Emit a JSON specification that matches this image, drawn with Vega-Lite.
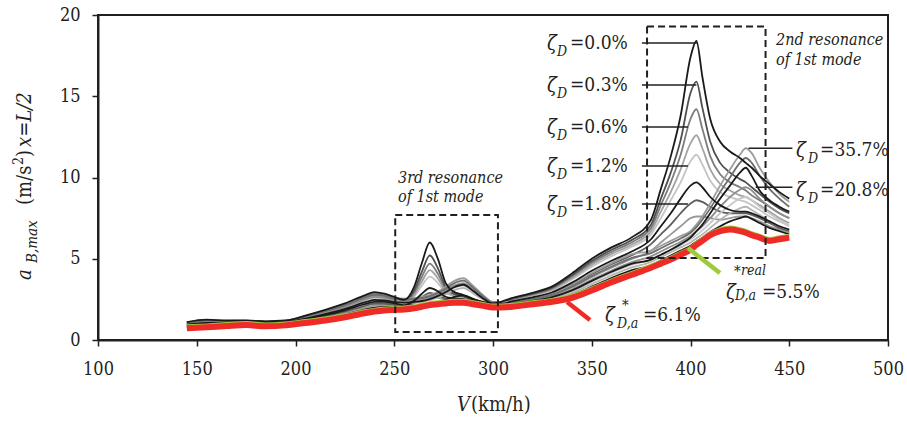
{
"$schema":"https://vega.github.io/schema/vega-lite/v6.json",
"width":790,"height":325,
"autosize":{"type":"none"},
"padding":{"left":98,"top":15,"right":19,"bottom":84},
"background":"white",
"config":{
 "font":"DejaVu Serif Condensed, DejaVu Serif",
 "view":{"stroke":"#231f20","strokeWidth":2},
 "axis":{"grid":false,"domainColor":"#231f20","domainWidth":2,"tickColor":"#231f20","tickWidth":1.5,"tickSize":6,"labelFont":"DejaVu Serif Condensed, DejaVu Serif","labelFontSize":18,"labelColor":"#231f20","labelFlush":false,"labelOverlap":false},
 "axisX":{"tickCount":8,"labelPadding":14},
 "axisY":{"tickCount":4,"labelPadding":12}
},
"datasets":{
 "curves":[
  {"v":145,"L0":1.1,"L1":1.07,"L2":1.04,"L3":1.02,"L4":0.99,"L5":0.91,"L6":0.87,"L7":0.83,"H0":0.8,"H1":0.93,"H2":0.97,"H3":1.0,"H4":0.95,"H5":1.05,"H6":1.08,"R":0.72,"G":0.87},
  {"v":155,"L0":1.25,"L1":1.21,"L2":1.18,"L3":1.15,"L4":1.11,"L5":1.02,"L6":0.97,"L7":0.92,"H0":0.87,"H1":1.04,"H2":1.09,"H3":1.13,"H4":1.06,"H5":1.19,"H6":1.23,"R":0.78,"G":0.93},
  {"v":165,"L0":1.2,"L1":1.17,"L2":1.15,"L3":1.13,"L4":1.1,"L5":1.03,"L6":1.0,"L7":0.96,"H0":0.93,"H1":1.05,"H2":1.08,"H3":1.12,"H4":1.06,"H5":1.16,"H6":1.18,"R":0.86,"G":1.01},
  {"v":175,"L0":1.2,"L1":1.18,"L2":1.16,"L3":1.14,"L4":1.12,"L5":1.06,"L6":1.03,"L7":1.0,"H0":0.98,"H1":1.07,"H2":1.1,"H3":1.13,"H4":1.09,"H5":1.17,"H6":1.19,"R":0.92,"G":1.07},
  {"v":185,"L0":1.15,"L1":1.13,"L2":1.1,"L3":1.08,"L4":1.06,"L5":1.0,"L6":0.96,"L7":0.93,"H0":0.9,"H1":1.01,"H2":1.04,"H3":1.07,"H4":1.03,"H5":1.11,"H6":1.13,"R":0.84,"G":0.99},
  {"v":195,"L0":1.2,"L1":1.18,"L2":1.16,"L3":1.13,"L4":1.11,"L5":1.05,"L6":1.02,"L7":0.99,"H0":0.96,"H1":1.07,"H2":1.1,"H3":1.13,"H4":1.08,"H5":1.16,"H6":1.19,"R":0.9,"G":1.05},
  {"v":205,"L0":1.5,"L1":1.46,"L2":1.43,"L3":1.4,"L4":1.37,"L5":1.28,"L6":1.23,"L7":1.19,"H0":1.14,"H1":1.3,"H2":1.34,"H3":1.39,"H4":1.32,"H5":1.45,"H6":1.48,"R":1.05,"G":1.2},
  {"v":215,"L0":1.85,"L1":1.8,"L2":1.75,"L3":1.71,"L4":1.66,"L5":1.53,"L6":1.46,"L7":1.4,"H0":1.33,"H1":1.56,"H2":1.62,"H3":1.69,"H4":1.59,"H5":1.77,"H6":1.82,"R":1.2,"G":1.35},
  {"v":225,"L0":2.25,"L1":2.18,"L2":2.12,"L3":2.06,"L4":2.0,"L5":1.83,"L6":1.74,"L7":1.66,"H0":1.57,"H1":1.87,"H2":1.95,"H3":2.04,"H4":1.91,"H5":2.15,"H6":2.21,"R":1.4,"G":1.55},
  {"v":235,"L0":2.75,"L1":2.66,"L2":2.59,"L3":2.51,"L4":2.42,"L5":2.2,"L6":2.09,"L7":1.98,"H0":1.87,"H1":2.26,"H2":2.37,"H3":2.48,"H4":2.31,"H5":2.62,"H6":2.7,"R":1.65,"G":1.8},
  {"v":240,"L0":2.95,"L1":2.85,"L2":2.77,"L3":2.69,"L4":2.59,"L5":2.35,"L6":2.23,"L7":2.11,"H0":1.99,"H1":2.41,"H2":2.53,"H3":2.65,"H4":2.47,"H5":2.81,"H6":2.89,"R":1.75,"G":1.9},
  {"v":245,"L0":2.85,"L1":2.77,"L2":2.7,"L3":2.62,"L4":2.54,"L5":2.34,"L6":2.23,"L7":2.13,"H0":2.03,"H1":2.39,"H2":2.49,"H3":2.59,"H4":2.44,"H5":2.73,"H6":2.8,"R":1.82,"G":1.97},
  {"v":250,"L0":2.65,"L1":2.59,"L2":2.53,"L3":2.47,"L4":2.41,"L5":2.25,"L6":2.17,"L7":2.09,"H0":2.01,"H1":2.29,"H2":2.37,"H3":2.45,"H4":2.33,"H5":2.55,"H6":2.61,"R":1.85,"G":2.0},
  {"v":255,"L0":2.47,"L1":2.39,"L2":2.36,"L3":2.29,"L4":2.27,"L5":2.14,"L6":2.08,"L7":2.07,"H0":2.0,"H1":2.27,"H2":2.35,"H3":2.42,"H4":2.3,"H5":2.5,"H6":2.55,"R":1.88,"G":2.03},
  {"v":260,"L0":3.26,"L1":3.03,"L2":2.9,"L3":2.76,"L4":2.66,"L5":2.41,"L6":2.3,"L7":2.24,"H0":2.05,"H1":2.3,"H2":2.39,"H3":2.45,"H4":2.34,"H5":2.53,"H6":2.58,"R":1.95,"G":2.1},
  {"v":264,"L0":4.74,"L1":4.21,"L2":3.88,"L3":3.6,"L4":3.34,"L5":2.85,"L6":2.64,"L7":2.48,"H0":2.12,"H1":2.35,"H2":2.44,"H3":2.51,"H4":2.4,"H5":2.59,"H6":2.65,"R":2.05,"G":2.2},
  {"v":268,"L0":6.0,"L1":5.2,"L2":4.7,"L3":4.3,"L4":3.9,"L5":3.2,"L6":2.9,"L7":2.65,"H0":2.2,"H1":2.45,"H2":2.53,"H3":2.62,"H4":2.51,"H5":2.7,"H6":2.76,"R":2.15,"G":2.3},
  {"v":272,"L0":5.02,"L1":4.44,"L2":4.09,"L3":3.8,"L4":3.52,"L5":3.0,"L6":2.77,"L7":2.6,"H0":2.32,"H1":2.6,"H2":2.7,"H3":2.79,"H4":2.7,"H5":2.89,"H6":2.97,"R":2.2,"G":2.35},
  {"v":276,"L0":3.51,"L1":3.28,"L2":3.15,"L3":3.01,"L4":2.91,"L5":2.66,"L6":2.55,"L7":2.49,"H0":2.47,"H1":2.81,"H2":2.93,"H3":3.05,"H4":2.94,"H5":3.16,"H6":3.27,"R":2.25,"G":2.4},
  {"v":280,"L0":2.98,"L1":2.87,"L2":2.83,"L3":2.75,"L4":2.72,"L5":2.57,"L6":2.5,"L7":2.48,"H0":2.64,"H1":3.05,"H2":3.2,"H3":3.34,"H4":3.23,"H5":3.47,"H6":3.61,"R":2.3,"G":2.45},
  {"v":285,"L0":2.77,"L1":2.7,"L2":2.69,"L3":2.64,"L4":2.63,"L5":2.52,"L6":2.46,"L7":2.46,"H0":2.75,"H1":3.2,"H2":3.35,"H3":3.5,"H4":3.4,"H5":3.65,"H6":3.8,"R":2.3,"G":2.45},
  {"v":290,"L0":2.5,"L1":2.45,"L2":2.45,"L3":2.4,"L4":2.4,"L5":2.3,"L6":2.25,"L7":2.25,"H0":2.54,"H1":2.87,"H2":2.99,"H3":3.09,"H4":3.01,"H5":3.21,"H6":3.32,"R":2.2,"G":2.35},
  {"v":295,"L0":2.35,"L1":2.3,"L2":2.3,"L3":2.25,"L4":2.25,"L5":2.15,"L6":2.1,"L7":2.1,"H0":2.29,"H1":2.48,"H2":2.55,"H3":2.62,"H4":2.56,"H5":2.69,"H6":2.76,"R":2.1,"G":2.25},
  {"v":300,"L0":2.25,"L1":2.2,"L2":2.2,"L3":2.15,"L4":2.15,"L5":2.05,"L6":2.0,"L7":2.0,"H0":2.12,"H1":2.2,"H2":2.24,"H3":2.28,"H4":2.22,"H5":2.32,"H6":2.35,"R":2.0,"G":2.15},
  {"v":310,"L0":2.6,"L1":2.56,"L2":2.53,"L3":2.5,"L4":2.46,"L5":2.39,"L6":2.34,"L7":2.28,"H0":2.12,"H1":2.16,"H2":2.2,"H3":2.24,"H4":2.22,"H5":2.3,"H6":2.35,"R":2.05,"G":2.2},
  {"v":320,"L0":2.9,"L1":2.85,"L2":2.81,"L3":2.77,"L4":2.73,"L5":2.63,"L6":2.56,"L7":2.49,"H0":2.28,"H1":2.34,"H2":2.39,"H3":2.44,"H4":2.41,"H5":2.52,"H6":2.59,"R":2.2,"G":2.35},
  {"v":330,"L0":3.3,"L1":3.23,"L2":3.18,"L3":3.12,"L4":3.06,"L5":2.94,"L6":2.84,"L7":2.75,"H0":2.46,"H1":2.54,"H2":2.61,"H3":2.67,"H4":2.64,"H5":2.78,"H6":2.87,"R":2.35,"G":2.5},
  {"v":340,"L0":4.1,"L1":4.0,"L2":3.91,"L3":3.82,"L4":3.73,"L5":3.53,"L6":3.38,"L7":3.23,"H0":2.78,"H1":2.9,"H2":3.01,"H3":3.11,"H4":3.05,"H5":3.28,"H6":3.43,"R":2.6,"G":2.75},
  {"v":350,"L0":5.0,"L1":4.86,"L2":4.75,"L3":4.63,"L4":4.51,"L5":4.26,"L6":4.06,"L7":3.87,"H0":3.28,"H1":3.44,"H2":3.58,"H3":3.71,"H4":3.64,"H5":3.93,"H6":4.12,"R":3.05,"G":3.2},
  {"v":360,"L0":5.7,"L1":5.55,"L2":5.42,"L3":5.29,"L4":5.16,"L5":4.88,"L6":4.67,"L7":4.45,"H0":3.81,"H1":3.98,"H2":4.13,"H3":4.28,"H4":4.2,"H5":4.52,"H6":4.73,"R":3.55,"G":3.7},
  {"v":370,"L0":6.3,"L1":6.14,"L2":6.0,"L3":5.86,"L4":5.73,"L5":5.43,"L6":5.2,"L7":4.97,"H0":4.28,"H1":4.46,"H2":4.62,"H3":4.78,"H4":4.69,"H5":5.04,"H6":5.27,"R":4.0,"G":4.15},
  {"v":380,"L0":7.4,"L1":7.1,"L2":6.9,"L3":6.7,"L4":6.5,"L5":6.2,"L6":5.9,"L7":5.5,"H0":4.6,"H1":4.8,"H2":4.95,"H3":5.15,"H4":4.95,"H5":5.35,"H6":5.5,"R":4.45,"G":4.6},
  {"v":385,"L0":9.3,"L1":8.7,"L2":8.3,"L3":7.9,"L4":7.5,"L5":7.0,"L6":6.5,"L7":6.0,"H0":4.9,"H1":5.1,"H2":5.25,"H3":5.45,"H4":5.25,"H5":5.65,"H6":5.8,"R":4.7,"G":4.85},
  {"v":390,"L0":11.3,"L1":10.3,"L2":9.7,"L3":9.1,"L4":8.6,"L5":7.8,"L6":7.1,"L7":6.5,"H0":5.2,"H1":5.4,"H2":5.55,"H3":5.75,"H4":5.55,"H5":5.95,"H6":6.1,"R":4.95,"G":5.1},
  {"v":395,"L0":13.8,"L1":12.3,"L2":11.4,"L3":10.5,"L4":9.7,"L5":8.7,"L6":7.8,"L7":7.0,"H0":5.5,"H1":5.7,"H2":5.85,"H3":6.05,"H4":5.9,"H5":6.25,"H6":6.4,"R":5.25,"G":5.4},
  {"v":400,"L0":17.4,"L1":15.2,"L2":13.6,"L3":12.1,"L4":11.0,"L5":9.5,"L6":8.4,"L7":7.5,"H0":5.8,"H1":6.0,"H2":6.2,"H3":6.4,"H4":6.3,"H5":6.6,"H6":6.7,"R":5.55,"G":5.7},
  {"v":403,"L0":18.4,"L1":15.9,"L2":14.2,"L3":12.6,"L4":11.4,"L5":9.7,"L6":8.6,"L7":7.6,"H0":6.05,"H1":6.25,"H2":6.45,"H3":6.7,"H4":6.7,"H5":6.95,"H6":7.1,"R":5.85,"G":6.0},
  {"v":406,"L0":16.2,"L1":14.3,"L2":13.0,"L3":11.8,"L4":10.8,"L5":9.4,"L6":8.5,"L7":7.6,"H0":6.3,"H1":6.5,"H2":6.75,"H3":7.0,"H4":7.1,"H5":7.4,"H6":7.6,"R":6.1,"G":6.25},
  {"v":410,"L0":13.6,"L1":12.2,"L2":11.3,"L3":10.5,"L4":9.8,"L5":8.8,"L6":8.2,"L7":7.5,"H0":6.65,"H1":6.9,"H2":7.2,"H3":7.5,"H4":7.8,"H5":8.1,"H6":8.4,"R":6.45,"G":6.6},
  {"v":415,"L0":12.2,"L1":10.9,"L2":10.2,"L3":9.6,"L4":9.1,"L5":8.3,"L6":7.9,"L7":7.4,"H0":7.0,"H1":7.4,"H2":7.8,"H3":8.2,"H4":8.7,"H5":9.1,"H6":9.5,"R":6.7,"G":6.85},
  {"v":420,"L0":11.6,"L1":10.3,"L2":9.7,"L3":9.2,"L4":8.8,"L5":8.0,"L6":7.8,"L7":7.5,"H0":7.3,"H1":7.8,"H2":8.3,"H3":8.8,"H4":9.5,"H5":10.0,"H6":10.5,"R":6.8,"G":6.95},
  {"v":425,"L0":11.2,"L1":9.9,"L2":9.4,"L3":8.9,"L4":8.6,"L5":7.9,"L6":7.8,"L7":7.6,"H0":7.5,"H1":8.1,"H2":8.7,"H3":9.25,"H4":10.3,"H5":10.9,"H6":11.4,"R":6.7,"G":6.85},
  {"v":428,"L0":10.9,"L1":9.7,"L2":9.2,"L3":8.8,"L4":8.5,"L5":7.9,"L6":7.8,"L7":7.6,"H0":7.6,"H1":8.2,"H2":8.8,"H3":9.4,"H4":10.6,"H5":11.2,"H6":11.8,"R":6.6,"G":6.75},
  {"v":431,"L0":10.6,"L1":9.4,"L2":8.9,"L3":8.6,"L4":8.3,"L5":7.8,"L6":7.7,"L7":7.5,"H0":7.45,"H1":8.0,"H2":8.6,"H3":9.2,"H4":10.1,"H5":10.9,"H6":11.5,"R":6.45,"G":6.6},
  {"v":435,"L0":10.1,"L1":9.0,"L2":8.6,"L3":8.3,"L4":8.0,"L5":7.6,"L6":7.5,"L7":7.3,"H0":7.2,"H1":7.7,"H2":8.2,"H3":8.7,"H4":9.2,"H5":10.1,"H6":10.6,"R":6.3,"G":6.45},
  {"v":440,"L0":9.6,"L1":8.5,"L2":8.2,"L3":7.9,"L4":7.6,"L5":7.3,"L6":7.2,"L7":7.0,"H0":6.9,"H1":7.3,"H2":7.8,"H3":8.2,"H4":8.6,"H5":9.3,"H6":9.7,"R":6.1,"G":6.25},
  {"v":445,"L0":9.1,"L1":8.1,"L2":7.8,"L3":7.5,"L4":7.3,"L5":7.0,"L6":6.9,"L7":6.8,"H0":6.7,"H1":7.0,"H2":7.4,"H3":7.8,"H4":8.2,"H5":8.7,"H6":9.0,"R":6.2,"G":6.35},
  {"v":450,"L0":8.7,"L1":7.8,"L2":7.5,"L3":7.2,"L4":7.0,"L5":6.8,"L6":6.7,"L7":6.6,"H0":6.5,"H1":6.8,"H2":7.1,"H3":7.5,"H4":7.9,"H5":8.2,"H6":8.5,"R":6.3,"G":6.45}
 ],
 "boxes":[
  {"x1":250.5,"x2":302.5,"y1":0.5,"y2":7.7},
  {"x1":378,"x2":438,"y1":5.05,"y2":19.3}
 ],
 "leaders":[
  {"x1":375.4,"x2":403.5,"y":18.28},
  {"x1":375.4,"x2":403,"y":15.69},
  {"x1":375.4,"x2":398.7,"y":13.11},
  {"x1":375.4,"x2":398.7,"y":10.71},
  {"x1":375.4,"x2":398.7,"y":8.37},
  {"x1":429.4,"x2":451.6,"y":11.8},
  {"x1":433,"x2":451.6,"y":9.4}
 ],
 "ann":[
  {"x1":337.5,"y1":2.34,"x2":349.1,"y2":1.23,"c":"r"},
  {"x1":398.7,"y1":5.66,"x2":414.9,"y2":4.12,"c":"g"}
 ],
 "labels":[
  {"v":339.0,"a":18.28,"t":"=0.0%","c":"n21"},
  {"v":327.3,"a":18.22,"t":"ζ","c":"i21"},
  {"v":332.4,"a":17.72,"t":"D","c":"i15"},
  {"v":339.0,"a":15.69,"t":"=0.3%","c":"n21"},
  {"v":327.3,"a":15.63,"t":"ζ","c":"i21"},
  {"v":332.4,"a":15.14,"t":"D","c":"i15"},
  {"v":339.0,"a":13.11,"t":"=0.6%","c":"n21"},
  {"v":327.3,"a":13.05,"t":"ζ","c":"i21"},
  {"v":332.4,"a":12.55,"t":"D","c":"i15"},
  {"v":339.0,"a":10.71,"t":"=1.2%","c":"n21"},
  {"v":327.3,"a":10.65,"t":"ζ","c":"i21"},
  {"v":332.4,"a":10.15,"t":"D","c":"i15"},
  {"v":339.0,"a":8.37,"t":"=1.8%","c":"n21"},
  {"v":327.3,"a":8.31,"t":"ζ","c":"i21"},
  {"v":332.4,"a":7.82,"t":"D","c":"i15"},
  {"v":465.6,"a":11.69,"t":"=35.7%","c":"n21"},
  {"v":453.4,"a":11.63,"t":"ζ","c":"i21"},
  {"v":459.5,"a":11.14,"t":"D","c":"i15"},
  {"v":465.6,"a":9.23,"t":"=20.8%","c":"n21"},
  {"v":453.4,"a":9.17,"t":"ζ","c":"i21"},
  {"v":459.5,"a":8.68,"t":"D","c":"i15"},
  {"v":375.9,"a":1.54,"t":"=6.1%","c":"n21"},
  {"v":356.7,"a":1.48,"t":"ζ","c":"i21"},
  {"v":365.3,"a":2.15,"t":"*","c":"n16"},
  {"v":362.8,"a":0.98,"t":"D,a","c":"i15"},
  {"v":436.2,"a":2.95,"t":"=5.5%","c":"n21"},
  {"v":418.0,"a":2.9,"t":"ζ","c":"i21"},
  {"v":422.0,"a":4.22,"t":"*","c":"n16"},
  {"v":425.6,"a":4.25,"t":"real","c":"i15"},
  {"v":422.5,"a":2.71,"t":"D,a","c":"i15"},
  {"v":251.9,"a":9.97,"t":"3rd resonance","c":"i18"},
  {"v":251.9,"a":8.8,"t":"of 1st mode","c":"i18"},
  {"v":443.3,"a":18.46,"t":"2nd resonance","c":"i18"},
  {"v":443.3,"a":17.23,"t":"of 1st mode","c":"i18"},
  {"v":281.8,"a":-4.0,"t":"V","c":"i22"},
  {"v":288.9,"a":-4.0,"t":"(km/h)","c":"n22"},
  {"v":66.1,"a":3.69,"t":"a","c":"ri22"},
  {"v":69.1,"a":4.74,"t":"B,max","c":"ri17"},
  {"v":66.1,"a":8.31,"t":"(m/s","c":"rn22"},
  {"v":62.0,"a":10.77,"t":"2","c":"rn15"},
  {"v":66.1,"a":11.26,"t":")","c":"rn22"},
  {"v":66.1,"a":11.88,"t":"x=L/2","c":"ri22"}
 ]
},
"resolve":{"scale":{"color":"independent"}},
"layer":[
 {"data":{"name":"curves"},
  "transform":[{"fold":["L7","L6","L4","L3","L2","L1","H2","H1","H3","H6","H5","H0","H4","L5","L0"],"as":["s","val"]}],
  "mark":{"type":"line","strokeWidth":1.8,"interpolate":"monotone"},
  "encoding":{
   "x":{"field":"v","type":"quantitative","scale":{"domain":[100,500],"nice":false,"zero":false},"title":null},
   "y":{"field":"val","type":"quantitative","scale":{"domain":[0,20],"nice":false},"title":null},
   "color":{"field":"s","type":"nominal","legend":null,"scale":{"domain":["L7","L6","L4","L3","L2","L1","H2","H1","H3","H6","H5","H0","H4","L5","L0"],"range":["#9a9a9a","#5e5e5e","#c4c4c4","#a3a3a3","#7d7d7d","#505050","#c8c8c8","#b5b5b5","#8e8e8e","#9c9c9c","#6e6e6e","#1a1a1a","#1a1a1a","#1a1a1a","#1a1a1a"]}}
  }},
 {"data":{"name":"curves"},
  "mark":{"type":"line","color":"#9dcb3b","strokeWidth":3,"interpolate":"monotone"},
  "encoding":{
   "x":{"field":"v","type":"quantitative","scale":{"domain":[100,500],"nice":false,"zero":false},"title":null},
   "y":{"field":"G","type":"quantitative","scale":{"domain":[0,20],"nice":false},"title":null}
  }},
 {"data":{"name":"curves"},
  "mark":{"type":"line","color":"#ee2b26","strokeWidth":6,"interpolate":"monotone"},
  "encoding":{
   "x":{"field":"v","type":"quantitative","scale":{"domain":[100,500],"nice":false,"zero":false},"title":null},
   "y":{"field":"R","type":"quantitative","scale":{"domain":[0,20],"nice":false},"title":null}
  }},
 {"data":{"name":"boxes"},
  "mark":{"type":"rect","fillOpacity":0,"stroke":"#231f20","strokeWidth":2,"strokeDash":[7,4]},
  "encoding":{
   "x":{"field":"x1","type":"quantitative","scale":{"domain":[100,500],"nice":false,"zero":false},"title":null},
   "x2":{"field":"x2"},
   "y":{"field":"y1","type":"quantitative","scale":{"domain":[0,20],"nice":false},"title":null},
   "y2":{"field":"y2"}
  }},
 {"data":{"name":"leaders"},
  "mark":{"type":"rule","color":"#231f20","strokeWidth":1.5},
  "encoding":{
   "x":{"field":"x1","type":"quantitative","scale":{"domain":[100,500],"nice":false,"zero":false},"title":null},
   "x2":{"field":"x2"},
   "y":{"field":"y","type":"quantitative","scale":{"domain":[0,20],"nice":false},"title":null}
  }},
 {"data":{"name":"ann"},"transform":[{"filter":"datum.c==='r'"}],
  "mark":{"type":"rule","strokeWidth":4.5,"color":"#ee2b26"},
  "encoding":{
   "x":{"field":"x1","type":"quantitative","scale":{"domain":[100,500],"nice":false,"zero":false},"title":null},
   "x2":{"field":"x2"},
   "y":{"field":"y1","type":"quantitative","scale":{"domain":[0,20],"nice":false},"title":null},
   "y2":{"field":"y2"}
  }},
 {"data":{"name":"ann"},"transform":[{"filter":"datum.c==='g'"}],
  "mark":{"type":"rule","strokeWidth":4.5,"color":"#9dcb3b"},
  "encoding":{
   "x":{"field":"x1","type":"quantitative","scale":{"domain":[100,500],"nice":false,"zero":false},"title":null},
   "x2":{"field":"x2"},
   "y":{"field":"y1","type":"quantitative","scale":{"domain":[0,20],"nice":false},"title":null},
   "y2":{"field":"y2"}
  }},
 {"data":{"name":"labels"},"transform":[{"filter":"datum.c==='n21'"}],
  "mark":{"type":"text","align":"left","baseline":"middle","fontSize":19,"font":"DejaVu Serif Condensed, DejaVu Serif","color":"#231f20"},
  "encoding":{"x":{"field":"v","type":"quantitative","scale":{"domain":[100,500],"nice":false,"zero":false},"title":null},"y":{"field":"a","type":"quantitative","scale":{"domain":[0,20],"nice":false},"title":null},"text":{"field":"t"}}},
 {"data":{"name":"labels"},"transform":[{"filter":"datum.c==='i21'"}],
  "mark":{"type":"text","align":"left","baseline":"middle","fontSize":20,"fontStyle":"italic","font":"DejaVu Serif Condensed, DejaVu Serif","color":"#231f20"},
  "encoding":{"x":{"field":"v","type":"quantitative","scale":{"domain":[100,500],"nice":false,"zero":false},"title":null},"y":{"field":"a","type":"quantitative","scale":{"domain":[0,20],"nice":false},"title":null},"text":{"field":"t"}}},
 {"data":{"name":"labels"},"transform":[{"filter":"datum.c==='i15'"}],
  "mark":{"type":"text","align":"left","baseline":"middle","fontSize":14,"fontStyle":"italic","font":"DejaVu Serif Condensed, DejaVu Serif","color":"#231f20"},
  "encoding":{"x":{"field":"v","type":"quantitative","scale":{"domain":[100,500],"nice":false,"zero":false},"title":null},"y":{"field":"a","type":"quantitative","scale":{"domain":[0,20],"nice":false},"title":null},"text":{"field":"t"}}},
 {"data":{"name":"labels"},"transform":[{"filter":"datum.c==='n16'"}],
  "mark":{"type":"text","align":"left","baseline":"middle","fontSize":15,"font":"DejaVu Serif Condensed, DejaVu Serif","color":"#231f20"},
  "encoding":{"x":{"field":"v","type":"quantitative","scale":{"domain":[100,500],"nice":false,"zero":false},"title":null},"y":{"field":"a","type":"quantitative","scale":{"domain":[0,20],"nice":false},"title":null},"text":{"field":"t"}}},
 {"data":{"name":"labels"},"transform":[{"filter":"datum.c==='i18'"}],
  "mark":{"type":"text","align":"left","baseline":"middle","fontSize":16,"fontStyle":"italic","font":"DejaVu Serif Condensed, DejaVu Serif","color":"#231f20"},
  "encoding":{"x":{"field":"v","type":"quantitative","scale":{"domain":[100,500],"nice":false,"zero":false},"title":null},"y":{"field":"a","type":"quantitative","scale":{"domain":[0,20],"nice":false},"title":null},"text":{"field":"t"}}},
 {"data":{"name":"labels"},"transform":[{"filter":"datum.c==='i22'"}],
  "mark":{"type":"text","align":"left","baseline":"middle","fontSize":20,"fontStyle":"italic","font":"DejaVu Serif Condensed, DejaVu Serif","color":"#231f20"},
  "encoding":{"x":{"field":"v","type":"quantitative","scale":{"domain":[100,500],"nice":false,"zero":false},"title":null},"y":{"field":"a","type":"quantitative","scale":{"domain":[0,20],"nice":false},"title":null},"text":{"field":"t"}}},
 {"data":{"name":"labels"},"transform":[{"filter":"datum.c==='n22'"}],
  "mark":{"type":"text","align":"left","baseline":"middle","fontSize":20,"font":"DejaVu Serif Condensed, DejaVu Serif","color":"#231f20"},
  "encoding":{"x":{"field":"v","type":"quantitative","scale":{"domain":[100,500],"nice":false,"zero":false},"title":null},"y":{"field":"a","type":"quantitative","scale":{"domain":[0,20],"nice":false},"title":null},"text":{"field":"t"}}},
 {"data":{"name":"labels"},"transform":[{"filter":"datum.c==='ri22'"}],
  "mark":{"type":"text","align":"left","baseline":"alphabetic","angle":270,"fontSize":20,"fontStyle":"italic","font":"DejaVu Serif Condensed, DejaVu Serif","color":"#231f20"},
  "encoding":{"x":{"field":"v","type":"quantitative","scale":{"domain":[100,500],"nice":false,"zero":false},"title":null},"y":{"field":"a","type":"quantitative","scale":{"domain":[0,20],"nice":false},"title":null},"text":{"field":"t"}}},
 {"data":{"name":"labels"},"transform":[{"filter":"datum.c==='rn22'"}],
  "mark":{"type":"text","align":"left","baseline":"alphabetic","angle":270,"fontSize":20,"font":"DejaVu Serif Condensed, DejaVu Serif","color":"#231f20"},
  "encoding":{"x":{"field":"v","type":"quantitative","scale":{"domain":[100,500],"nice":false,"zero":false},"title":null},"y":{"field":"a","type":"quantitative","scale":{"domain":[0,20],"nice":false},"title":null},"text":{"field":"t"}}},
 {"data":{"name":"labels"},"transform":[{"filter":"datum.c==='ri17'"}],
  "mark":{"type":"text","align":"left","baseline":"alphabetic","angle":270,"fontSize":15,"fontStyle":"italic","font":"DejaVu Serif Condensed, DejaVu Serif","color":"#231f20"},
  "encoding":{"x":{"field":"v","type":"quantitative","scale":{"domain":[100,500],"nice":false,"zero":false},"title":null},"y":{"field":"a","type":"quantitative","scale":{"domain":[0,20],"nice":false},"title":null},"text":{"field":"t"}}},
 {"data":{"name":"labels"},"transform":[{"filter":"datum.c==='rn15'"}],
  "mark":{"type":"text","align":"left","baseline":"alphabetic","angle":270,"fontSize":14,"font":"DejaVu Serif Condensed, DejaVu Serif","color":"#231f20"},
  "encoding":{"x":{"field":"v","type":"quantitative","scale":{"domain":[100,500],"nice":false,"zero":false},"title":null},"y":{"field":"a","type":"quantitative","scale":{"domain":[0,20],"nice":false},"title":null},"text":{"field":"t"}}}
]
}
